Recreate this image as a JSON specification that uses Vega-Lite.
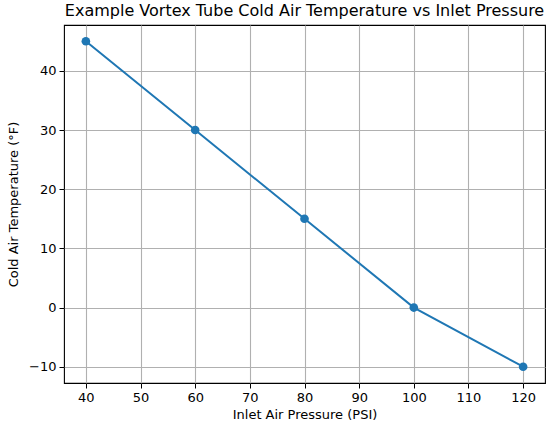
{
  "$schema": "https://vega.github.io/schema/vega-lite/v6.json",
  "autosize": "none",
  "padding": {"left": 64, "top": 25, "right": 11, "bottom": 48},
  "width": 481,
  "height": 358,
  "background": "white",
  "title": {
    "text": "Example Vortex Tube Cold Air Temperature vs Inlet Pressure",
    "font": "DejaVu Sans",
    "fontSize": 16,
    "fontWeight": "normal",
    "color": "black",
    "anchor": "middle",
    "offset": 6
  },
  "config": {
    "view": {"stroke": "black", "strokeWidth": 1.1},
    "axis": {
      "labelFont": "DejaVu Sans",
      "labelFontSize": 13,
      "labelColor": "black",
      "titleFont": "DejaVu Sans",
      "titleFontSize": 13,
      "titleFontWeight": "normal",
      "titleColor": "black",
      "tickColor": "black",
      "tickSize": 5,
      "domain": false,
      "gridColor": "#b0b0b0",
      "gridWidth": 1.1,
      "gridOpacity": 1,
      "labelPadding": 3
    }
  },
  "data": {
    "values": [
      {"pressure": 40, "temp": 45},
      {"pressure": 60, "temp": 30},
      {"pressure": 80, "temp": 15},
      {"pressure": 100, "temp": 0},
      {"pressure": 120, "temp": -10}
    ]
  },
  "encoding": {
    "x": {
      "field": "pressure",
      "type": "quantitative",
      "title": "Inlet Air Pressure (PSI)",
      "scale": {"domain": [36, 124], "nice": false, "zero": false},
      "axis": {"values": [40, 50, 60, 70, 80, 90, 100, 110, 120], "titlePadding": 4}
    },
    "y": {
      "field": "temp",
      "type": "quantitative",
      "title": "Cold Air Temperature (°F)",
      "scale": {"domain": [-12.75, 47.75], "nice": false, "zero": false},
      "axis": {"values": [-10, 0, 10, 20, 30, 40], "titlePadding": 8}
    }
  },
  "layer": [
    {"mark": {"type": "line", "color": "#1f77b4", "strokeWidth": 2}},
    {"mark": {"type": "point", "filled": true, "color": "#1f77b4", "size": 75, "opacity": 1}}
  ]
}
